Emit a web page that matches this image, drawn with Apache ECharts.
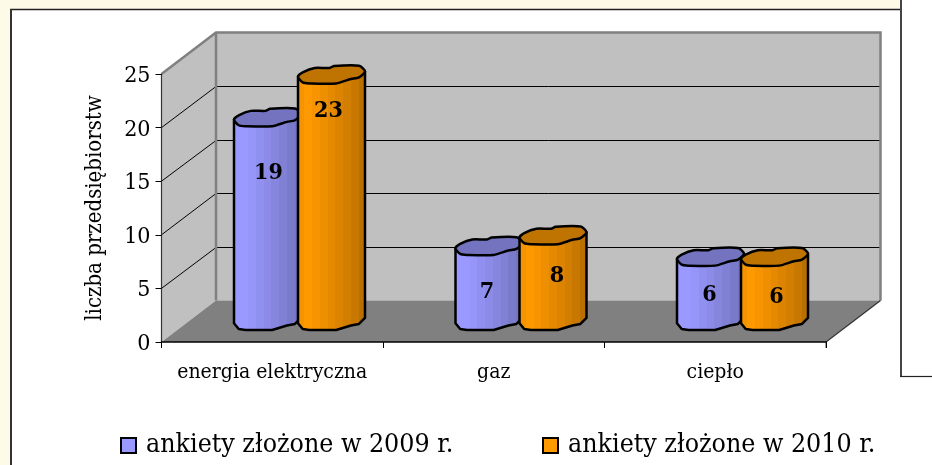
<!DOCTYPE html>
<html><head><meta charset="utf-8">
<style>html,body{margin:0;padding:0;background:#fff}#c{width:932px;height:465px}</style>
<script src="https://cdn.jsdelivr.net/npm/echarts@6/dist/echarts.min.js"></script>
</head><body><div id="c"></div>
<script>
const categories = ['energia elektryczna', 'gaz', 'ciepło'];
const series2009 = [19, 7, 6];
const series2010 = [23, 8, 6];
const name2009 = 'ankiety złożone w 2009 r.';
const name2010 = 'ankiety złożone w 2010 r.';
const yTicks = [0, 5, 10, 15, 20, 25];
const axisName = 'liczba przedsiębiorstw';

// Hand-placed data-label drops below the bar top (px), as in the original chart
const labelDrop2009 = [55, 46, 38];
const labelDrop2010 = [36, 41, 40];
const labelShift2009 = [1, -2, -1];
const labelShift2010 = [-3, 4, 2];

const FONT = '"DejaVu Serif Condensed", "DejaVu Serif", serif';
const DX = 54.5, DY = 41.5;
const BAR_W = 67, BAR_OFF = 32;

// wobbly cross-section of the bars: [fraction of width, px from centre line]
const rimBack = [[0,2],[.07,-2.3],[.25,-6.7],[.47,-6.7],[.54,-8.7],[.91,-9],[1,-3.3]];
const rimFront = [[1,-3.3],[.91,2.7],[.79,4.3],[.57,8.7],[.17,8.7],[.07,7.7],[0,2]];

const stripes = (cols) => {
  const stops = [];
  cols.forEach((c, i) => {
    stops.push({offset: i / cols.length, color: c});
    stops.push({offset: (i + 1) / cols.length, color: c});
  });
  return {type: 'linear', x: 0, y: 0, x2: 1, y2: 0, colorStops: stops};
};
const bluePal = {
  main: '#9999FF', top: '#7373BF',
  body: stripes(['#9999FF','#9999FF','#9696FA','#9090F0','#8C8CE8','#8686DE','#8080D4','#7A7ACB','#7373BF'])
};
const orangePal = {
  main: '#FF9900', top: '#BF7300',
  body: stripes(['#F59300','#FF9900','#F79400','#EE8F00','#E58A00','#DC8400','#D27E00','#C87800','#BA7000'])
};

function barRender(sign, pal, drops, shifts) {
  return function (params, api) {
    const i = api.value(0), v = api.value(1);
    const top = api.coord([i, v]), base = api.coord([i, 0]);
    const cx = top[0] + DX / 2 + sign * BAR_OFF;
    const ty = top[1] - DY / 2, by = base[1] - DY / 2;
    const left = cx - BAR_W / 2;
    const pt = (p, y) => [left + p[0] * BAR_W, y + p[1]];
    const bodyPts = [pt([0, 2], ty), pt([1, -3.3], ty)]
      .concat(rimFront.map(p => pt(p, by)));
    const topPts = rimBack.map(p => pt(p, ty)).concat(rimFront.slice(1, -1).map(p => pt(p, ty)));
    return {
      type: 'group',
      children: [
        {type: 'polygon', shape: {points: bodyPts},
         style: {fill: pal.body, stroke: '#000', lineWidth: 2.5, lineJoin: 'round'}},
        {type: 'polygon', shape: {points: topPts, smooth: 0.25},
         style: {fill: pal.top, stroke: '#000', lineWidth: 2.5, lineJoin: 'round'}},
        {type: 'text', x: cx + shifts[i], y: ty + drops[i],
         style: {text: String(v), font: 'bold 23px ' + FONT, fill: '#000',
                 textAlign: 'center', textVerticalAlign: 'middle'}}
      ]
    };
  };
}

function wallsRender(params, api) {
  const band = api.size([1, 0])[0];
  const y0 = api.coord([0, 0])[1], yT = api.coord([0, 25])[1];
  const x0 = api.coord([0, 0])[0] - band / 2;
  const x1 = api.coord([2, 0])[0] + band / 2;
  const kids = [
    {type: 'polygon', shape: {points: [[x0,y0],[x0,yT],[x0+DX,yT-DY],[x0+DX,y0-DY]]},
     style: {fill: '#C0C0C0', stroke: 'none'}},
    {type: 'rect', shape: {x: x0+DX, y: yT-DY, width: x1-x0, height: y0-yT},
     style: {fill: '#C0C0C0', stroke: 'none'}},
    {type: 'polygon', shape: {points: [[x0,y0],[x0+DX,y0-DY],[x1+DX,y0-DY],[x1,y0]]},
     style: {fill: '#808080', stroke: 'none'}}
  ];
  yTicks.slice(1, -1).forEach(v => {
    const y = api.coord([0, v])[1];
    const back = Math.round(y - DY) + 0.5;
    kids.push({type: 'polyline', shape: {points: [[x0,y],[x0+DX,back],[x1+DX,back]]},
      style: {fill: 'none', stroke: '#000', lineWidth: 1}});
  });
  kids.push({type: 'polyline', shape: {points: [[x0,yT],[x0+DX,yT-DY],[x1+DX,yT-DY],[x1+DX,y0-DY]]},
    style: {fill: 'none', stroke: '#808080', lineWidth: 2.5}});
  kids.push({type: 'line', shape: {x1: x0+DX, y1: yT-DY, x2: x0+DX, y2: y0-DY},
    style: {stroke: '#808080', lineWidth: 2.5}});
  kids.push({type: 'line', shape: {x1: x1, y1: y0, x2: x1+DX, y2: y0-DY},
    style: {stroke: '#333', lineWidth: 1.2}});
  kids.push({type: 'line', shape: {x1: x1, y1: y0, x2: x1, y2: y0+6},
    style: {stroke: '#808080', lineWidth: 1.5}});
  return {type: 'group', children: kids};
}

const chart = echarts.init(document.getElementById('c'), null, {renderer: 'canvas'});
const legendBase = {
  top: 427, orient: 'horizontal', icon: 'rect', itemWidth: 15, itemHeight: 15,
  itemStyle: {borderColor: '#000', borderWidth: 2},
  textStyle: {fontFamily: FONT, fontSize: 26.5, color: '#000', padding: [0,0,0,5]},
  selectedMode: false
};
chart.setOption({
  animation: false,
  backgroundColor: '#fff',
  grid: {left: 161.5, right: 106, top: 74, bottom: 123, containLabel: false},
  xAxis: {
    type: 'category', data: categories, z: 6,
    axisLine: {lineStyle: {color: '#000', width: 1.5}},
    axisTick: {show: true, alignWithLabel: false, interval: 0, length: 6, lineStyle: {color: '#000'}},
    axisLabel: {fontFamily: FONT, fontSize: 21, color: '#000', margin: 20, interval: 0, hideOverlap: false},
    splitLine: {show: false}
  },
  yAxis: {
    type: 'value', min: 0, max: 25, interval: 5, z: 6,
    name: axisName, nameLocation: 'middle', nameGap: 55, nameRotate: 90,
    nameTextStyle: {fontFamily: FONT, fontSize: 22, color: '#000'},
    axisLine: {show: true, lineStyle: {color: '#333', width: 1.2}},
    axisTick: {show: true, length: 6, lineStyle: {color: '#000'}},
    axisLabel: {
      margin: 11, color: '#000',
      formatter: '{n|{value}}',
      rich: {n: {fontFamily: FONT, fontSize: 23, color: '#000', padding: [4, 0, 0, 0]}}
    },
    splitLine: {show: false}
  },
  legend: [
    Object.assign({}, legendBase, {left: 115, data: [name2009]}),
    Object.assign({}, legendBase, {left: 537, data: [name2010]})
  ],
  graphic: [
    {type: 'rect', z: -10, shape: {x: 0, y: 0, width: 901, height: 9}, style: {fill: '#FEFAE8'}},
    {type: 'rect', z: -10, shape: {x: 0, y: 0, width: 10, height: 465}, style: {fill: '#FEFAE8'}},
    {type: 'line', z: -9, shape: {x1: 10, y1: 9.5, x2: 901, y2: 9.5}, style: {stroke: '#222', lineWidth: 1.5}},
    {type: 'line', z: -9, shape: {x1: 11, y1: 9, x2: 11, y2: 465}, style: {stroke: '#333', lineWidth: 2}},
    {type: 'line', z: -9, shape: {x1: 901, y1: 0, x2: 901, y2: 377}, style: {stroke: '#444', lineWidth: 2}},
    {type: 'line', z: -9, shape: {x1: 900, y1: 376.5, x2: 932, y2: 376.5}, style: {stroke: '#222', lineWidth: 1.2}}
  ],
  series: [
    {type: 'custom', name: 'walls', z: 1, silent: true, clip: false,
     coordinateSystem: 'cartesian2d', renderItem: wallsRender, data: [[0, 0]], encode: {x: 0, y: 1}},
    {type: 'custom', name: name2009, z: 3, clip: false, coordinateSystem: 'cartesian2d',
     itemStyle: {color: bluePal.main},
     renderItem: barRender(-1, bluePal, labelDrop2009, labelShift2009),
     data: series2009.map((v, i) => [i, v]), encode: {x: 0, y: 1}},
    {type: 'custom', name: name2010, z: 4, clip: false, coordinateSystem: 'cartesian2d',
     itemStyle: {color: orangePal.main},
     renderItem: barRender(1, orangePal, labelDrop2010, labelShift2010),
     data: series2010.map((v, i) => [i, v]), encode: {x: 0, y: 1}}
  ]
});
</script></body></html>
